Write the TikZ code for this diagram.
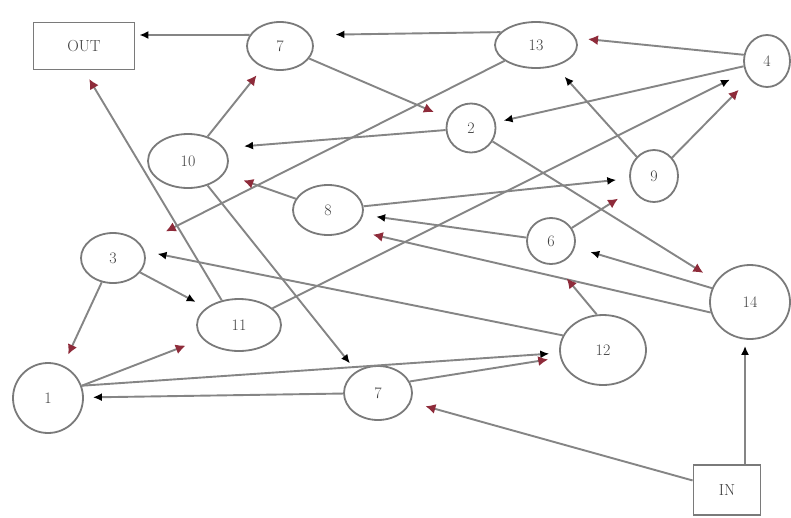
\documentclass[tikz,border=0pt]{standalone}
\usetikzlibrary{shapes.geometric,arrows.meta}
\definecolor{edgegray}{HTML}{858585}
\definecolor{nodegray}{HTML}{7A7A7A}
\definecolor{arrred}{HTML}{8E2B3A}
\begin{document}
\begin{tikzpicture}[x=1pt,y=-1pt,
  ell/.style={ellipse,draw=nodegray,line width=1.8pt,inner sep=0pt,font=\fontsize{16}{18}\selectfont,text=black!75},
  box/.style={rectangle,draw=nodegray,line width=1.8pt,inner sep=0pt,font=\fontsize{16}{18}\selectfont,text=black!75},
  e/.style={draw=edgegray,line width=1.9pt,shorten >=#1},
  e/.default=12pt,
  tb/.style={-{Latex[length=9pt,width=8pt,color=black]}},
  tr/.style={-{Latex[length=10pt,width=10pt,color=arrred]}},
]
\fill[white] (0,0) rectangle (791,517);
\path[use as bounding box] (0,0) rectangle (791,517);

\node[box,minimum width=101,minimum height=47] (OUT) at (84,46) {OUT};
\node[ell,minimum width=66,minimum height=48] (n7a) at (280,46) {7};
\node[ell,minimum width=82,minimum height=46] (n13) at (536,45) {13};
\node[ell,minimum width=46,minimum height=52] (n4) at (767,61) {4};
\node[ell,minimum width=49,minimum height=49] (n2) at (471,128) {2};
\node[ell,minimum width=80,minimum height=54] (n10) at (188,161) {10};
\node[ell,minimum width=48,minimum height=52] (n9) at (654,176) {9};
\node[ell,minimum width=70,minimum height=50] (n8) at (328,210) {8};
\node[ell,minimum width=48,minimum height=46] (n6) at (551,241) {6};
\node[ell,minimum width=64,minimum height=50] (n3) at (113,258) {3};
\node[ell,minimum width=84,minimum height=52] (n11) at (239,325) {11};
\node[ell,minimum width=80,minimum height=74] (n14) at (750,302) {14};
\node[ell,minimum width=86,minimum height=70] (n12) at (603,350) {12};
\node[ell,minimum width=70,minimum height=70] (n1) at (48,398) {1};
\node[ell,minimum width=68,minimum height=54] (n7b) at (378,393) {7};
\node[box,minimum width=67,minimum height=50] (IN) at (727,490) {IN};

% edges
\draw[e=4pt,tb] (n7a.160) -- ([yshift=11pt]OUT.east);
\draw[e=25pt,tb] (n13.160) -- (n7a.20);
\draw[e=12pt,tr] (n4.165) -- (n13.10);
\draw[e=15pt,tr] (n7a) -- (n2);
\draw[e=8pt,tb] (n4) -- (n2);
\draw[e=20pt,tb] (n2) -- (n10.20);
\draw[e=10pt,tr] (n10) -- (n7a);
\draw[e=28pt,tr] (n13) -- (n3);
\draw[e=20pt,tr] (n8) -- (n10);
\draw[e=14pt,tb] (n9) -- (n13);
\draw[e=17pt,tb] (n11) -- (n4);
\draw[e=15pt,tr] (n9) -- (n4);
\draw[e=13pt,tb] (n8) -- (n9);
\draw[e=17pt,tr] (n6) -- (n9);
\draw[e=15pt,tr] (n2) -- (n14);
\draw[e=16pt,tb] (n14.160) -- (n6.-15);
\draw[e=13pt,tb] (n6) -- (n8);
\draw[e=22pt,tr] (n14.195) -- (n8.-40);
\draw[e=18pt,tr] (n12.100) -- (n6.-80);
\draw[e=13pt,tb] (n12.160) -- (n3.12);
\draw[e=12pt,tr] (n3) -- (n1);
\draw[e=12pt,tb] (n3) -- (n11);
\draw[e=18pt,tr] (n1.20) -- (n11);
\draw[e=10pt,tb] (n1.20) -- (n12);
\draw[e=10pt,tr] (n11.125) -- (OUT.south);
\draw[e=10pt,tb] (n10) -- (n7b.135);
\draw[e=12pt,tr] (n7b.20) -- (n12.190);
\draw[e=9pt,tb] (n7b) -- (n1);
\draw[e=15pt,tr] (IN) -- (n7b);
\draw[e=6pt,tb] ([xshift=18pt]IN.north) -- ([xshift=-5pt]n14.south);
\end{tikzpicture}
\end{document}
